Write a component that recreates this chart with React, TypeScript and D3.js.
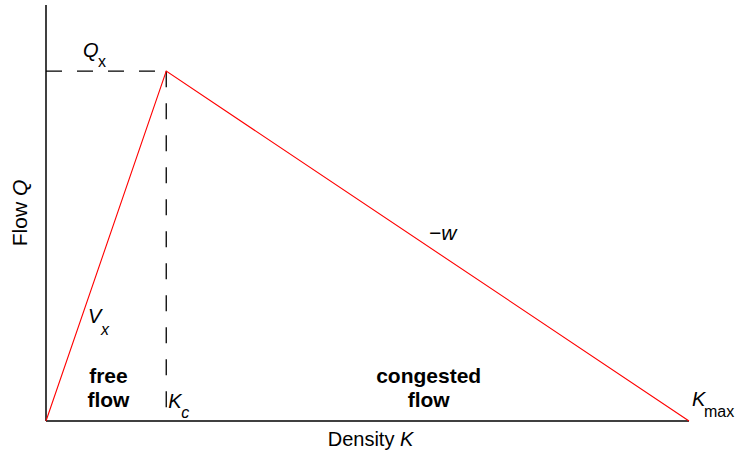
import React from "react";
import * as d3 from "d3";

// Fundamental diagram (triangular): points of the flow–density curve
const densities = [0, 0.187, 1]; // 0, Kc, Kmax (relative)
const flows = [0, 0.841, 0]; // 0, Qx, 0 (relative)
const regionLabels = [
  { lines: ["free", "flow"], k: 0.094 },
  { lines: ["congested", "flow"], k: 0.592 },
];

const width = 736;
const height = 457;
const margin = { left: 46, right: 47, top: 5, bottom: 36 };
const font = "Liberation Sans, Arial, sans-serif";

export default function App() {
  const x = d3
    .scaleLinear()
    .domain([0, 1])
    .range([margin.left, width - margin.right]);
  const y = d3
    .scaleLinear()
    .domain([0, 1])
    .range([height - margin.bottom, margin.top]);

  const pts: [number, number][] = densities.map((k, i) => [k, flows[i]]);
  const line = d3
    .line<[number, number]>()
    .x((d) => x(d[0]))
    .y((d) => y(d[1]));

  const kc = densities[1];
  const qx = flows[1];
  const kmax = densities[2];
  const y0 = y(0);

  return (
    <svg
      width={width}
      height={height}
      style={{ position: "absolute", left: 0, top: 0 }}
      fontFamily={font}
    >
      <rect width={width} height={height} fill="#fff" />
      {/* dashed guides */}
      <line
        x1={x(0)}
        x2={x(kc)}
        y1={y(qx)}
        y2={y(qx)}
        stroke="#000"
        strokeWidth={1.3}
        strokeDasharray="16,15"
      />
      <line
        x1={x(kc)}
        x2={x(kc)}
        y1={y(qx)}
        y2={y0}
        stroke="#000"
        strokeWidth={1.3}
        strokeDasharray="16,16"
      />
      {/* axes */}
      <line x1={x(0)} x2={x(0)} y1={y(1)} y2={y0} stroke="#000" strokeWidth={1.5} />
      <line x1={x(0)} x2={x(kmax)} y1={y0} y2={y0} stroke="#000" strokeWidth={1.5} />
      {/* curve */}
      <path d={line(pts) || ""} fill="none" stroke="#ff0000" strokeWidth={1.1} />

      {/* axis titles */}
      <text
        transform={`translate(27,${(y(1) + y0) / 2}) rotate(-90)`}
        textAnchor="middle"
        fontSize={21}
      >
        Flow <tspan fontStyle="italic">Q</tspan>
      </text>
      <text x={(x(0) + x(kmax)) / 2 + 3} y={446} textAnchor="middle" fontSize={20}>
        Density <tspan fontStyle="italic">K</tspan>
      </text>

      {/* Qx */}
      <text x={83} y={57} fontSize={20} fontStyle="italic">
        Q
      </text>
      <text x={98} y={67} fontSize={16}>
        x
      </text>

      {/* Vx */}
      <text x={88} y={323} fontSize={20} fontStyle="italic">
        V
      </text>
      <text x={101} y={335} fontSize={16} fontStyle="italic">
        x
      </text>

      {/* Kc */}
      <text x={x(kc) + 2} y={408} fontSize={20} fontStyle="italic">
        K
      </text>
      <text x={x(kc) + 15} y={418} fontSize={16} fontStyle="italic">
        c
      </text>

      {/* Kmax */}
      <text x={x(kmax) + 3} y={406} fontSize={20} fontStyle="italic">
        K
      </text>
      <text x={x(kmax) + 15} y={417} fontSize={16}>
        max
      </text>

      {/* -w */}
      <text x={429} y={240} fontSize={21} fontStyle="italic">
        −w
      </text>

      {/* regions */}
      {regionLabels.map((r) =>
        r.lines.map((t, i) => (
          <text
            key={r.k + t}
            x={x(r.k) + 2}
            y={383 + i * 24}
            textAnchor="middle"
            fontSize={21}
            fontWeight="bold"
          >
            {t}
          </text>
        ))
      )}
    </svg>
  );
}
